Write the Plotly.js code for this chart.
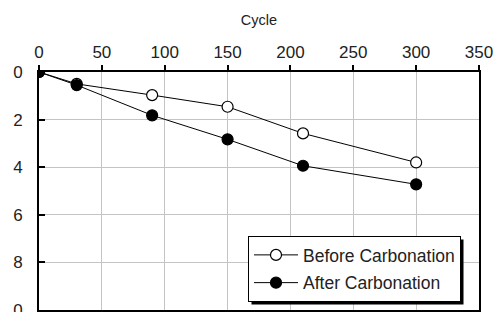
<!DOCTYPE html>
<html><head><meta charset="utf-8">
<script src="https://cdn.plot.ly/plotly-3.0.1.min.js"></script>
<style>html,body{margin:0;padding:0;background:#fff}#chart{width:496px;height:312px}</style>
</head><body><div id="chart"></div>
<script>
var cycles = [0, 30, 90, 150, 210, 300];
var beforeCarb = [0, 0.5, 0.97, 1.46, 2.58, 3.8];
var afterCarb = [0, 0.55, 1.82, 2.83, 3.94, 4.72];
var yTickVals = [0, 2, 4, 6, 8, 10];
var yTickText = ["0", "2", "4", "6", "8", "0"];

var traces = [
  {x: cycles, y: beforeCarb, name: "Before Carbonation", legendgroup: "a", type: "scatter", mode: "lines+markers",
   line: {color: "#000", width: 1}, marker: {symbol: "circle", size: 11, color: "#fff", line: {color: "#000", width: 1.2}}},
  {x: cycles, y: afterCarb, name: "After Carbonation", legendgroup: "b", type: "scatter", mode: "lines+markers",
   line: {color: "#000", width: 1}, marker: {symbol: "circle", size: 11, color: "#000", line: {color: "#000", width: 1.2}}}
];
var L = 39, T = 72, W = 440, H = 238;
var layout = {
  width: 496, height: 312,
  margin: {l: L, r: 496 - L - W, t: T, b: 312 - T - H},
  paper_bgcolor: "#fff", plot_bgcolor: "#fff",
  font: {family: "Liberation Sans, Arial, sans-serif", size: 17, color: "#222"},
  showlegend: true,
  xaxis: {side: "top", range: [0, 350], dtick: 50, tick0: 0, showgrid: true, gridcolor: "#c4c4c4", gridwidth: 1,
    showline: true, linecolor: "#000", linewidth: 2, mirror: true, ticks: "outside", ticklen: 5, tickwidth: 2, tickcolor: "#000",
    zeroline: false, tickfont: {size: 17}, title: {text: "Cycle", standoff: 14, font: {size: 14.5}}},
  yaxis: {range: [10, 0], tickvals: yTickVals, ticktext: yTickText, showgrid: true, gridcolor: "#c4c4c4", gridwidth: 1,
    showline: true, linecolor: "#000", linewidth: 2, mirror: true, ticks: "inside", ticklen: 6, tickwidth: 2, tickcolor: "#000",
    zeroline: false, ticklabelstandoff: 11, ticklabeloverflow: "allow", tickfont: {size: 17}},
  legend: {x: (248-L)/W, y: (T+H-236)/H, xanchor: "left", yanchor: "top", bgcolor: "#fff", bordercolor: "#000", borderwidth: 1,
    font: {size: 17.5, color: "#222"}, itemwidth: 44, tracegroupgap: 2},
  shapes: [{type: "rect", xref: "paper", yref: "paper", x0: 0.5, x1: 0.9, y0: 0.05, y1: 0.25,
    fillcolor: "#000", line: {width: 0}, layer: "above", visible: false}]
};
Plotly.newPlot("chart", traces, layout, {displayModeBar: false, staticPlot: true}).then(function (gd) {
  var bg = gd.querySelector(".legend .bg");
  var cb = gd.getBoundingClientRect();
  var r = bg.getBoundingClientRect();
  var x0 = r.left - cb.left + 3, x1 = r.right - cb.left + 3, y0 = r.top - cb.top + 3, y1 = r.bottom - cb.top + 3;
  return Plotly.relayout(gd, {
    "shapes[0].x0": (x0 - L) / W, "shapes[0].x1": (x1 - L) / W,
    "shapes[0].y0": (T + H - y1) / H, "shapes[0].y1": (T + H - y0) / H,
    "shapes[0].visible": true
  });
});
</script></body></html>
